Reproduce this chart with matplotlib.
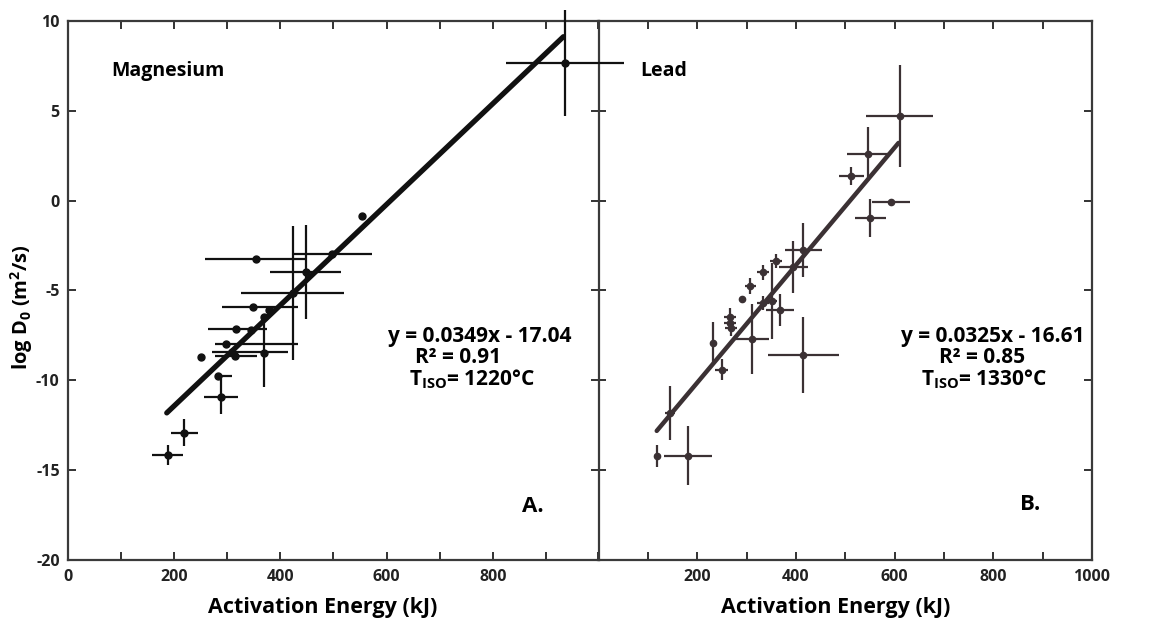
import numpy as np
import matplotlib.pyplot as plt

# Panel A - Magnesium
mg_energy = [936, 554, 498, 354, 449, 423, 348, 378, 370, 316, 345, 298, 370, 308, 314, 250, 283, 288, 219, 188]
mg_logd = [7.65, -0.84, -2.95, -3.25, -3.97, -5.15, -5.92, -6.1, -6.5, -7.16, -7.2, -7.95, -8.45, -8.4, -8.65,
           -8.68, -9.76, -10.9, -12.9, -14.15]
mg_xerr_lo = [112, 0, 75, 96, 69, 97, 58, 0, 0, 53, 0, 21, 0, 37, 37, 0, 6, 31, 25, 30]
mg_xerr_hi = [112, 0, 75, 95, 66, 97, 85, 0, 0, 58, 0, 136, 0, 107, 41, 0, 25, 32, 25, 28]
mg_yerr = [2.96, 0, 0, 0, 2.6, 3.72, 0, 0, 0, 0, 0, 0, 1.9, 0, 0, 0, 0, 0.97, 0.75, 0.55]
mg_fit_x = [186, 933]
mg_fit_y = [-11.8, 9.1]

# Panel B - Lead
pb_energy = [610, 546, 512, 593, 551, 415, 395, 360, 333, 308, 291, 333, 368, 266, 266, 268, 232, 250, 311, 352,
             415, 145, 118, 182]
pb_logd = [4.7, 2.6, 1.35, -0.07, -0.97, -2.76, -3.7, -3.35, -4.0, -4.75, -5.45, -5.7, -6.1, -6.45, -6.8, -7.1,
           -7.9, -9.4, -7.7, -5.6, -8.58, -11.8, -14.2, -14.17]
pb_xerr = [68, 43, 25, 39, 32, 38, 29, 12, 12, 12, 0, 12, 28, 12, 12, 12, 0, 13, 35, 10, 72, 10, 6, 49]
pb_yerr = [2.85, 1.5, 0.5, 0, 1.07, 1.5, 1.45, 0.4, 0.4, 0.45, 0, 0.4, 0.9, 0.45, 0.45, 0.45, 1.16, 0.6, 1.95,
           2.1, 2.1, 1.48, 0.6, 1.62]
pb_fit_x = [118, 608]
pb_fit_y = [-12.8, 3.2]

x_ticks = np.arange(0, 1001, 100)
y_ticks = np.arange(-20, 11, 5)

FONT = 'Open Sans'
plt.rcParams['font.family'] = [FONT, 'DejaVu Sans']
plt.rcParams['font.weight'] = 'bold'
plt.rcParams['axes.unicode_minus'] = False
plt.rcParams['mathtext.fontset'] = 'custom'
plt.rcParams['mathtext.rm'] = FONT + ':bold'
plt.rcParams['mathtext.bf'] = FONT + ':bold'

fig = plt.figure(figsize=(11.61, 6.19), dpi=100)
ax1 = fig.add_axes([0.05857, 0.09451, 0.45736, 0.87237])
ax2 = fig.add_axes([0.51550, 0.09451, 0.42506, 0.87237])
ax1.set_zorder(2)
ax1.patch.set_visible(False)
ax2.patch.set_visible(False)

mg_col = '#111111'
pb_col = '#3b3134'

ax1.plot(mg_fit_x, mg_fit_y, color=mg_col, lw=3.8, solid_capstyle='round', zorder=3)
ax1.errorbar(mg_energy, mg_logd, xerr=[mg_xerr_lo, mg_xerr_hi], yerr=mg_yerr, fmt='o', ms=5,
             color=mg_col, ecolor=mg_col, elinewidth=1.6, capsize=0, zorder=4)

ax2.plot(pb_fit_x, pb_fit_y, color=pb_col, lw=3.2, solid_capstyle='round', zorder=3)
ax2.errorbar(pb_energy, pb_logd, xerr=pb_xerr, yerr=pb_yerr, fmt='o', ms=4.5,
             color=pb_col, ecolor=pb_col, elinewidth=1.6, capsize=0, zorder=4)

for ax in (ax1, ax2):
    # error bars run past the frame in the original
    for child in ax.get_children():
        if hasattr(child, 'set_clip_on') and child not in ax.spines.values():
            child.set_clip_on(False)
    ax.set_xlim(0, 1000)
    ax.set_ylim(-20, 10)
    ax.set_xticks(x_ticks)
    ax.set_yticks(y_ticks)
    ax.tick_params(direction='in', length=6, width=1.3, top=True, right=True, labelsize=11.5,
                   pad=6, colors='#222222')
    for s in ax.spines.values():
        s.set_linewidth(1.6)
        s.set_color('#3a3a3a')
    ax.set_xlabel('Activation Energy (kJ)', fontsize=15.5, fontweight='bold')
    ax.xaxis.set_label_coords(0.48, -0.068)

ax2.spines['left'].set_visible(False)

ax1.set_xticklabels(['0', '', '200', '', '400', '', '600', '', '800', '', ''])
ax1.set_yticklabels([str(v) for v in y_ticks])
ax2.set_xticklabels(['', '', '200', '', '400', '', '600', '', '800', '', '1000'])
ax2.set_yticklabels([])
ax1.set_ylabel(r'log D$_\mathbf{0}$ (m$^\mathbf{2}$/s)', fontsize=14.5, fontweight='bold')
ax1.yaxis.set_label_coords(-0.062, 0.47)

ax1.text(82, 7.2, 'Magnesium', fontsize=14, fontweight='bold', va='center')
ax2.text(85, 7.2, 'Lead', fontsize=14, fontweight='bold', va='center')

ann_y = [-7.55, -8.75, -9.95]
ax1.text(776, ann_y[0], 'y = 0.0349x - 17.04', fontsize=15, fontweight='bold', ha='center', va='center')
ax1.text(734, ann_y[1], 'R² = 0.91', fontsize=15, fontweight='bold', ha='center', va='center')
ax1.text(760, ann_y[2], r'T$_\mathbf{ISO}$= 1220°C', fontsize=15, fontweight='bold', ha='center', va='center')

ax2.text(799, ann_y[0], 'y = 0.0325x - 16.61', fontsize=15, fontweight='bold', ha='center', va='center')
ax2.text(778, ann_y[1], 'R² = 0.85', fontsize=15, fontweight='bold', ha='center', va='center')
ax2.text(781, ann_y[2], r'T$_\mathbf{ISO}$= 1330°C', fontsize=15, fontweight='bold', ha='center', va='center')

ax1.text(876, -17.0, 'A.', fontsize=16, fontweight='bold', ha='center', va='center')
ax2.text(875, -16.9, 'B.', fontsize=16, fontweight='bold', ha='center', va='center')

fig.savefig('out.png', dpi=100)
